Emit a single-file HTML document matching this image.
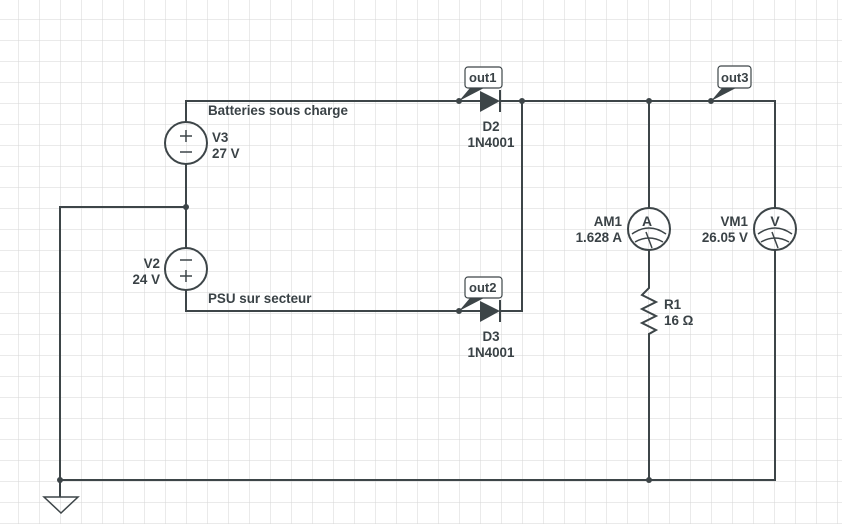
<!DOCTYPE html>
<html><head><meta charset="utf-8"><style>
html,body{margin:0;padding:0;background:#fff;}
svg{display:block;}
text{font-family:"Liberation Sans",Arial,sans-serif;font-size:13.4px;font-weight:bold;fill:#3a4246;}
</style></head><body>
<svg width="842" height="524" viewBox="0 0 842 524" xmlns="http://www.w3.org/2000/svg">
<defs>
<pattern id="g" x="18" y="19" width="21" height="21" patternUnits="userSpaceOnUse">
<path d="M0 0H21M0 0V21" stroke="#d6d6d6" stroke-width="1" fill="none"/>
</pattern>
</defs>
<rect width="842" height="524" fill="url(#g)"/>
<g stroke="#3d4548" stroke-width="2" fill="none">
<path d="M186 122V101H480M500 101H775V208M775 250V480H60V207H186M186 164V248M186 290V311H480M500 311H522V101"/>
<path d="M649 101V208M649 250V288L642 295L656 302L642 309L656 316L642 323L656 330L649 334V480"/>
<path d="M60 480V497"/>
<polygon points="44,497 78,497 61,513" stroke-width="1.5"/>
<circle cx="186" cy="143" r="21"/>
<circle cx="186" cy="269" r="21"/>
<circle cx="649" cy="229" r="21"/>
<circle cx="775" cy="229" r="21"/>
</g>
<g stroke="#3d4548" stroke-width="1.5" fill="none">
<path d="M180 136H192M186 130V142M180 152H192"/>
<path d="M180 260H192M180 276H192M186 270V282"/>
<path d="M632 234Q649 222 666 234M635 242Q649 234 663 242M646 232L652 248"/>
<path d="M758 234Q775 222 792 234M761 242Q775 234 789 242M772 232L778 248"/>
<path d="M500 90V112M500 300V322" stroke-width="2"/>
</g>
<g fill="#3d4548">
<polygon points="480,91 480,112 500,101"/>
<polygon points="480,301 480,322 500,311"/>
<circle cx="186" cy="207" r="3"/>
<circle cx="60" cy="480" r="3"/>
<circle cx="522" cy="101" r="3"/>
<circle cx="649" cy="101" r="3"/>
<circle cx="649" cy="480" r="3"/>
<circle cx="459" cy="101" r="3"/>
<circle cx="459" cy="311" r="3"/>
<circle cx="711" cy="101" r="3"/>
<polygon points="459,101 470,88 484,88"/>
<polygon points="459,311 470,298 484,298"/>
<polygon points="711,101 722,88 736,88"/>
</g>
<g stroke="#3d4548" stroke-width="1.2" fill="#fff">
<rect x="465" y="67" width="37" height="21" rx="3"/>
<rect x="465" y="277" width="37" height="21" rx="3"/>
<rect x="718" y="66" width="33" height="22" rx="3"/>
</g>
<text x="469" y="82" style="font-size:13px">out1</text>
<text x="469" y="292" style="font-size:13px">out2</text>
<text x="721" y="82" style="font-size:13px">out3</text>
<text x="647" y="226" style="font-size:14px" text-anchor="middle">A</text>
<text x="775" y="226" style="font-size:14px" text-anchor="middle">V</text>
<text x="208" y="115">Batteries sous charge</text>
<text x="208" y="303">PSU sur secteur</text>
<text x="212" y="142">V3</text>
<text x="212" y="158">27 V</text>
<text x="160" y="268" text-anchor="end">V2</text>
<text x="160" y="284" text-anchor="end">24 V</text>
<text x="491" y="131" text-anchor="middle">D2</text>
<text x="491" y="147" text-anchor="middle">1N4001</text>
<text x="491" y="341" text-anchor="middle">D3</text>
<text x="491" y="357" text-anchor="middle">1N4001</text>
<text x="622" y="226" text-anchor="end">AM1</text>
<text x="622" y="242" text-anchor="end">1.628 A</text>
<text x="748" y="226" text-anchor="end">VM1</text>
<text x="748" y="242" text-anchor="end">26.05 V</text>
<text x="664" y="309">R1</text>
<text x="664" y="325">16 Ω</text>
</svg>
</body></html>
